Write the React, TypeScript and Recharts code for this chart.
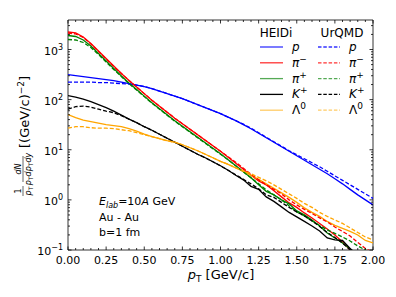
import React from 'react';
import { LineChart, Line, XAxis, YAxis, ReferenceArea, Customized } from 'recharts';

const FONT = 'DejaVu Sans';
const W = 396;
const H = 297;
const PLOT_TOP = 20;
const PLOT_RIGHT = 373;

// transverse momentum grid (GeV/c)
const pT = [0, 0.05, 0.1, 0.15, 0.2, 0.25, 0.3, 0.35, 0.4, 0.45, 0.5, 0.55, 0.6, 0.65, 0.7, 0.75, 0.8, 0.85, 0.9, 0.95, 1.0,
  1.05, 1.1, 1.15, 1.2, 1.25, 1.3, 1.35, 1.4, 1.45, 1.5, 1.55, 1.6, 1.65, 1.7, 1.75, 1.8, 1.85, 1.9, 1.95, 2.0];

// spectra, given as log10 of 1/pT dN/dpTdy
const pHeidi = [2.50, 2.48, 2.46, 2.44, 2.42, 2.40, 2.38, 2.35, 2.32, 2.29, 2.26, 2.22, 2.17, 2.12, 2.07, 2.02, 1.96, 1.90, 1.84, 1.78,
  1.72, 1.65, 1.58, 1.50, 1.42, 1.33, 1.24, 1.15, 1.06, 0.97, 0.88, 0.79, 0.70, 0.61, 0.52, 0.42, 0.32, 0.21, 0.10, 0.00, -0.10];
const pUrqmd = [2.35, 2.35, 2.35, 2.35, 2.34, 2.34, 2.33, 2.32, 2.31, 2.29, 2.26, 2.22, 2.17, 2.12, 2.07, 2.02, 1.96, 1.90, 1.84, 1.78,
  1.72, 1.65, 1.58, 1.51, 1.43, 1.34, 1.25, 1.16, 1.07, 0.98, 0.90, 0.82, 0.74, 0.66, 0.57, 0.48, 0.39, 0.30, 0.21, 0.12, 0.03];
const piMinusHeidi = [3.35, 3.33, 3.25, 3.12, 2.97, 2.82, 2.67, 2.52, 2.38, 2.25, 2.12, 1.99, 1.87, 1.75, 1.63, 1.52, 1.41, 1.30, 1.19, 1.08,
  0.97, 0.85, 0.73, 0.61, 0.49, 0.38, 0.30, 0.18, 0.06, -0.06, -0.15, -0.26, -0.36, -0.47, -0.58, -0.70, -0.84, -1.00, -1.10, null, null];
const piMinusUrqmd = [3.33, 3.31, 3.24, 3.11, 2.96, 2.81, 2.66, 2.52, 2.38, 2.25, 2.12, 1.99, 1.87, 1.75, 1.63, 1.52, 1.41, 1.30, 1.19, 1.08,
  0.97, 0.86, 0.75, 0.63, 0.51, 0.40, 0.30, 0.21, 0.12, 0.00, -0.10, -0.19, -0.27, -0.36, -0.44, -0.54, -0.63, -0.72, -0.85, -0.97, -1.05];
const piPlusHeidi = [3.28, 3.26, 3.19, 3.07, 2.92, 2.77, 2.62, 2.47, 2.33, 2.20, 2.07, 1.94, 1.82, 1.70, 1.58, 1.47, 1.36, 1.25, 1.14, 1.03,
  0.92, 0.80, 0.68, 0.56, 0.44, 0.30, 0.17, 0.10, 0.00, -0.08, -0.22, -0.30, -0.40, -0.52, -0.66, -0.76, -0.86, -0.98, -1.10, null, null];
const piPlusUrqmd = [3.20, 3.19, 3.14, 3.04, 2.90, 2.75, 2.60, 2.46, 2.32, 2.19, 2.06, 1.93, 1.81, 1.69, 1.57, 1.46, 1.35, 1.24, 1.13, 1.02,
  0.91, 0.80, 0.68, 0.56, 0.44, 0.32, 0.20, 0.10, 0.00, -0.12, -0.24, -0.32, -0.42, -0.51, -0.60, -0.67, -0.74, -0.82, -0.92, -1.00, -1.08];
const kPlusHeidi = [2.08, 2.05, 2.01, 1.96, 1.90, 1.84, 1.77, 1.69, 1.61, 1.54, 1.46, 1.39, 1.31, 1.23, 1.15, 1.07, 0.99, 0.91, 0.84, 0.76,
  0.68, 0.59, 0.49, 0.40, 0.27, 0.21, 0.06, -0.03, -0.14, -0.25, -0.34, -0.43, -0.52, -0.62, -0.76, -0.80, -0.81, -0.97, -1.10, null, null];
const kPlusUrqmd = [1.81, 1.86, 1.87, 1.85, 1.81, 1.77, 1.74, 1.68, 1.61, 1.54, 1.46, 1.39, 1.31, 1.23, 1.15, 1.07, 0.99, 0.91, 0.84, 0.76,
  0.68, 0.59, 0.50, 0.41, 0.32, 0.22, 0.10, 0.05, -0.05, -0.15, -0.24, -0.32, -0.42, -0.53, -0.65, -0.75, -0.86, -1.00, -1.10, null, null];
const lambdaHeidi = [1.70, 1.64, 1.59, 1.56, 1.53, 1.50, 1.48, 1.46, 1.42, 1.37, 1.31, 1.26, 1.22, 1.18, 1.15, 1.10, 1.04, 0.98, 0.91, 0.84,
  0.77, 0.71, 0.64, 0.57, 0.49, 0.41, 0.32, 0.23, 0.14, 0.05, -0.05, -0.16, -0.25, -0.33, -0.43, -0.51, -0.57, -0.63, -0.70, -0.81, -0.86];
const lambdaUrqmd = [1.43, 1.46, 1.46, 1.44, 1.43, 1.43, 1.42, 1.40, 1.38, 1.34, 1.30, 1.26, 1.22, 1.18, 1.15, 1.10, 1.04, 0.98, 0.91, 0.84,
  0.77, 0.71, 0.64, 0.58, 0.52, 0.45, 0.38, 0.30, 0.21, 0.12, 0.03, -0.07, -0.15, -0.25, -0.33, -0.40, -0.47, -0.56, -0.65, -0.74, -0.80];

const xTicks = pT;
const yTicks = [0.1, 0.2, 0.3, 0.4, 0.5, 0.6, 0.7, 0.8, 0.9, 1, 2, 3, 4, 5, 6, 7, 8, 9, 10, 20, 30, 40, 50, 60, 70, 80, 90,
  100, 200, 300, 400, 500, 600, 700, 800, 900, 1000, 2000, 3000];
const yDomain = [0.1, 3880];

const series = [
  { key: 'pH', values: pHeidi, color: '#0000ff', dashed: false },
  { key: 'piMH', values: piMinusHeidi, color: '#ff0000', dashed: false },
  { key: 'piPH', values: piPlusHeidi, color: '#008000', dashed: false },
  { key: 'kH', values: kPlusHeidi, color: '#000000', dashed: false },
  { key: 'lH', values: lambdaHeidi, color: '#ffa500', dashed: false },
  { key: 'pU', values: pUrqmd, color: '#0000ff', dashed: true },
  { key: 'piMU', values: piMinusUrqmd, color: '#ff0000', dashed: true },
  { key: 'piPU', values: piPlusUrqmd, color: '#008000', dashed: true },
  { key: 'kU', values: kPlusUrqmd, color: '#000000', dashed: true },
  { key: 'lU', values: lambdaUrqmd, color: '#ffa500', dashed: true },
];

const data = pT.map((x, i) => {
  const row: Record<string, number | null> = { pt: x };
  series.forEach((s) => {
    const l = s.values[i];
    row[s.key] = l === null ? null : Math.pow(10, l);
  });
  return row;
});

function XTick(props: any) {
  const { x, y, payload } = props;
  const v = payload.value as number;
  const major = Math.abs(v * 4 - Math.round(v * 4)) < 1e-6;
  const len = major ? 3.5 : 2;
  return (
    <g>
      <line x1={x} x2={x} y1={y} y2={y - len} stroke="#000" strokeWidth={0.8} />
      <line x1={x} x2={x} y1={PLOT_TOP} y2={PLOT_TOP + len} stroke="#000" strokeWidth={0.8} />
      {major && (
        <text x={x} y={y + 14} textAnchor="middle" fontSize={11} fontFamily={FONT} fill="#000">
          {v.toFixed(2)}
        </text>
      )}
    </g>
  );
}

function YTick(props: any) {
  const { x, y, payload } = props;
  const v = payload.value as number;
  const e = Math.log10(v);
  const major = Math.abs(e - Math.round(e)) < 1e-6;
  const len = major ? 3.5 : 2;
  const exp = Math.round(e);
  return (
    <g>
      <line x1={x} x2={x + len} y1={y} y2={y} stroke="#000" strokeWidth={0.8} />
      <line x1={PLOT_RIGHT} x2={PLOT_RIGHT - len} y1={y} y2={y} stroke="#000" strokeWidth={0.8} />
      {major && (
        <text x={x - 5} y={y + 5} textAnchor="end" fontSize={11} fontFamily={FONT} fill="#000">
          10
          <tspan dy={-5} fontSize={8}>{exp < 0 ? '\u2212' + Math.abs(exp) : String(exp)}</tspan>
        </text>
      )}
    </g>
  );
}

const legendRows = [
  { sym: 'p', sup: '', italic: true, solid: '#3333ff', dash: '#3333ff' },
  { sym: '\u03c0', sup: '\u2212', italic: true, solid: '#ff3333', dash: '#ff3333' },
  { sym: '\u03c0', sup: '+', italic: true, solid: '#55aa55', dash: '#55aa55' },
  { sym: 'K', sup: '+', italic: true, solid: '#000000', dash: '#000000' },
  { sym: '\u039b', sup: '0', italic: false, solid: '#ffcc66', dash: '#ffcc66' },
];

function Overlay() {
  return (
    <g fontFamily={FONT} fill="#000">
      {/* legend */}
      <text x={276} y={36.5} textAnchor="middle" fontSize={12}>HEIDi</text>
      <text x={342} y={36.5} textAnchor="middle" fontSize={12}>UrQMD</text>
      {legendRows.map((r, i) => {
        const ry = 47 + i * 15.8;
        return (
          <g key={i}>
            <line x1={260} x2={283} y1={ry} y2={ry} stroke={r.solid} strokeWidth={1.3} />
            <line x1={318} x2={340} y1={ry} y2={ry} stroke={r.dash} strokeWidth={1.3} strokeDasharray="3.5 1.8" />
            <text x={292} y={ry + 4} fontSize={12}>
              <tspan fontStyle={r.italic ? 'italic' : 'normal'}>{r.sym}</tspan>
              {r.sup && <tspan dy={-5} fontSize={9}>{r.sup}</tspan>}
            </text>
            <text x={349} y={ry + 4} fontSize={12}>
              <tspan fontStyle={r.italic ? 'italic' : 'normal'}>{r.sym}</tspan>
              {r.sup && <tspan dy={-5} fontSize={9}>{r.sup}</tspan>}
            </text>
          </g>
        );
      })}
      {/* annotation */}
      <text x={99} y={205} fontSize={11}>
        <tspan fontStyle="italic">E</tspan>
        <tspan fontStyle="italic" fontSize={8} dy={2.5}>lab</tspan>
        <tspan dy={-2.5}>=10</tspan>
        <tspan fontStyle="italic">A</tspan>
        <tspan> GeV</tspan>
      </text>
      <text x={99} y={220.5} fontSize={11}>Au - Au</text>
      <text x={99} y={236} fontSize={11}>b=1 fm</text>
      {/* x label */}
      <text x={221} y={279} textAnchor="middle" fontSize={13}>
        <tspan fontStyle="italic">p</tspan>
        <tspan fontSize={9} dy={3}>T</tspan>
        <tspan dy={-3}> [GeV/c]</tspan>
      </text>
      {/* y label */}
      <g transform="translate(24,135) rotate(-90)">
        <text x={-56} y={-3} textAnchor="middle" fontSize={8}>1</text>
        <line x1={-61} x2={-51} y1={-1} y2={-1} stroke="#000" strokeWidth={0.6} />
        <text x={-56} y={7} textAnchor="middle" fontSize={8}>
          <tspan fontStyle="italic">p</tspan>
          <tspan fontSize={6} dy={1.5}>T</tspan>
        </text>
        <text x={-34} y={-3} textAnchor="middle" fontSize={8} fontStyle="italic">dN</text>
        <line x1={-47} x2={-21} y1={-1} y2={-1} stroke="#000" strokeWidth={0.6} />
        <text x={-34} y={7} textAnchor="middle" fontSize={8}>
          <tspan fontStyle="italic">p</tspan>
          <tspan fontSize={6} dy={1.5}>T</tspan>
          <tspan fontStyle="italic" dy={-1.5}>dp</tspan>
          <tspan fontSize={6} dy={1.5}>T</tspan>
          <tspan fontStyle="italic" dy={-1.5}>dy</tspan>
        </text>
        <text x={-13} y={5} fontSize={13}>
          [(GeV/c)
          <tspan fontSize={9} dy={-5}>{'\u2212'}2</tspan>
          <tspan dy={5}>]</tspan>
        </text>
      </g>
    </g>
  );
}

export default function App() {
  return (
    <div style={{ position: 'absolute', left: 0, top: 0, width: W, height: H, background: '#fff', fontFamily: FONT }}>
      <LineChart
        width={W}
        height={H}
        data={data}
        margin={{ top: PLOT_TOP, right: W - PLOT_RIGHT, bottom: 27, left: 38 }}
      >
        <XAxis
          dataKey="pt"
          type="number"
          domain={[0, 2]}
          ticks={xTicks}
          interval={0}
          tickSize={0}
          tickMargin={0}
          tickLine={false}
          axisLine={false}
          height={20}
          tick={<XTick />}
          allowDataOverflow
        />
        <YAxis
          scale="log"
          type="number"
          domain={yDomain}
          ticks={yTicks}
          interval={0}
          tickSize={0}
          tickMargin={0}
          tickLine={false}
          axisLine={false}
          width={30}
          tick={<YTick />}
          allowDataOverflow
        />
        {series.map((s) => (
          <Line
            key={s.key}
            dataKey={s.key}
            type="linear"
            stroke={s.color}
            strokeWidth={1.3}
            strokeDasharray={s.dashed ? '4 2' : undefined}
            dot={false}
            activeDot={false}
            isAnimationActive={false}
            connectNulls={false}
          />
        ))}
        <ReferenceArea x1={0} x2={2} y1={yDomain[0]} y2={yDomain[1]} fill="none" stroke="#000" strokeWidth={0.8} ifOverflow="visible" />
        <Customized component={Overlay} />
      </LineChart>
    </div>
  );
}
